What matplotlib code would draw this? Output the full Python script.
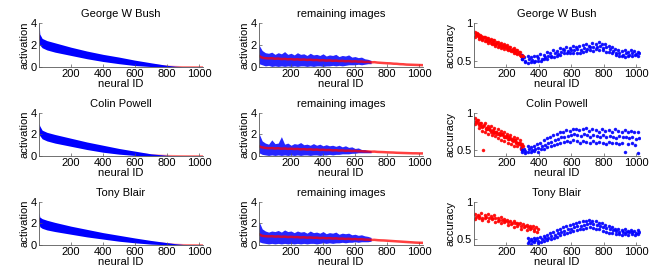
import numpy as np
import matplotlib
matplotlib.use('Agg')
import matplotlib.pyplot as plt

plt.rcParams['font.family'] = ['Liberation Sans', 'DejaVu Sans']
plt.rcParams['font.size'] = 8

people = ['George W Bush', 'Colin Powell', 'Tony Blair']

# ---- left column: activation band of the person's images (sorted neurons)
band_x = [1, 5, 20, 50, 100, 200, 300, 400, 500, 600, 700, 800, 850, 900, 1024]
band_hi = [
    [4.0, 3.0, 2.6, 2.4, 2.2, 1.8, 1.45, 1.15, 0.9, 0.62, 0.38, 0.15, 0.07, 0.03, 0.02],
    [3.0, 2.8, 2.4, 2.2, 2.0, 1.65, 1.3, 1.0, 0.7, 0.45, 0.2, 0.06, 0.03, 0.02, 0.02],
    [3.0, 2.6, 2.45, 2.3, 2.1, 1.75, 1.45, 1.15, 0.9, 0.65, 0.42, 0.22, 0.12, 0.05, 0.02],
]
band_lo = [
    [2.2, 2.0, 1.75, 1.55, 1.35, 1.05, 0.75, 0.5, 0.3, 0.13, 0.04, 0.0, 0.0, 0.0, 0.0],
    [2.0, 1.9, 1.6, 1.4, 1.2, 0.9, 0.6, 0.35, 0.17, 0.05, 0.0, 0.0, 0.0, 0.0, 0.0],
    [2.0, 1.7, 1.55, 1.4, 1.25, 1.0, 0.75, 0.55, 0.35, 0.2, 0.08, 0.02, 0.0, 0.0, 0.0],
]
band_mean = [
    [3.0, 2.5, 2.2, 2.0, 1.8, 1.4, 1.1, 0.8, 0.6, 0.38, 0.2, 0.07, 0.04, 0.02, 0.02],
    [2.5, 2.3, 2.0, 1.8, 1.6, 1.3, 0.95, 0.68, 0.45, 0.25, 0.1, 0.04, 0.03, 0.02, 0.02],
    [2.5, 2.2, 2.0, 1.85, 1.7, 1.4, 1.1, 0.85, 0.62, 0.42, 0.25, 0.12, 0.06, 0.03, 0.02],
]

# ---- middle column: remaining images
rem_bx = np.arange(0, 701, 20)
rem_hi = [
    [2.0, 1.5, 1.3, 1.25, 1.35, 1.15, 1.3, 1.2, 1.4, 1.15, 1.25, 1.1, 1.3, 1.15, 1.2, 1.05, 1.25, 1.1,
     1.15, 1.05, 1.2, 1.0, 1.1, 1.05, 1.15, 0.95, 1.05, 1.0, 1.1, 0.9, 0.95, 0.85, 0.9, 0.75, 0.7, 0.6],
    [2.1, 1.4, 1.2, 1.1, 1.5, 1.15, 1.2, 1.8, 1.1, 1.2, 1.0, 1.15, 1.1, 1.25, 1.05, 1.1, 1.0, 1.15,
     1.0, 1.1, 0.95, 1.05, 0.95, 1.0, 0.9, 1.0, 0.85, 0.95, 0.8, 0.85, 0.7, 0.75, 0.6, 0.6, 0.5, 0.5],
    [2.2, 1.5, 1.3, 1.2, 1.3, 1.25, 1.35, 1.2, 1.4, 1.25, 1.3, 1.15, 1.3, 1.2, 1.25, 1.1, 1.3, 1.15,
     1.2, 1.1, 1.25, 1.05, 1.15, 1.1, 1.2, 1.0, 1.1, 1.05, 1.1, 0.95, 1.0, 0.9, 0.95, 0.85, 0.8, 0.7],
]
rem_lo = [
    [0.3, 0.2, 0.1, 0.15, 0.05, 0.1, 0.05, 0.1, 0.05, 0.1, 0.05, 0.1, 0.05, 0.1, 0.1, 0.05, 0.1, 0.05,
     0.1, 0.1, 0.05, 0.1, 0.1, 0.15, 0.1, 0.15, 0.1, 0.15, 0.2, 0.2, 0.2, 0.25, 0.2, 0.25, 0.3, 0.3],
    [0.3, 0.15, 0.1, 0.05, 0.1, 0.05, 0.1, 0.05, 0.1, 0.05, 0.1, 0.05, 0.1, 0.05, 0.1, 0.1, 0.05, 0.1,
     0.1, 0.05, 0.1, 0.1, 0.15, 0.1, 0.15, 0.15, 0.2, 0.2, 0.2, 0.25, 0.25, 0.3, 0.3, 0.3, 0.3, 0.3],
    [0.3, 0.2, 0.15, 0.1, 0.15, 0.1, 0.15, 0.1, 0.15, 0.1, 0.15, 0.1, 0.15, 0.1, 0.15, 0.1, 0.15, 0.15,
     0.1, 0.15, 0.2, 0.15, 0.2, 0.15, 0.2, 0.2, 0.25, 0.2, 0.25, 0.25, 0.3, 0.25, 0.3, 0.3, 0.3, 0.35],
]
rem_rx = np.arange(0, 1021, 20)
rem_red = [
    [1.0, 0.85, 0.8, 0.78, 0.8, 0.75, 0.77, 0.72, 0.74, 0.7, 0.72, 0.68, 0.7, 0.66, 0.68, 0.64, 0.66, 0.63,
     0.64, 0.6, 0.62, 0.58, 0.6, 0.56, 0.58, 0.54, 0.56, 0.52, 0.54, 0.5, 0.52, 0.48, 0.5, 0.45, 0.47, 0.42,
     0.44, 0.4, 0.38, 0.36, 0.34, 0.33, 0.3, 0.29, 0.26, 0.25, 0.22, 0.21, 0.2, 0.19, 0.18, 0.17],
    [0.9, 0.8, 0.75, 0.72, 0.74, 0.7, 0.72, 0.68, 0.7, 0.66, 0.68, 0.65, 0.66, 0.62, 0.64, 0.6, 0.62, 0.58,
     0.6, 0.56, 0.58, 0.55, 0.56, 0.52, 0.54, 0.5, 0.52, 0.48, 0.5, 0.46, 0.48, 0.44, 0.45, 0.42, 0.43, 0.4,
     0.41, 0.38, 0.37, 0.36, 0.34, 0.33, 0.32, 0.3, 0.29, 0.28, 0.27, 0.26, 0.25, 0.25, 0.24, 0.24],
    [1.0, 0.85, 0.82, 0.8, 0.82, 0.78, 0.8, 0.76, 0.78, 0.74, 0.76, 0.73, 0.74, 0.7, 0.72, 0.68, 0.7, 0.67,
     0.68, 0.64, 0.66, 0.62, 0.64, 0.6, 0.62, 0.58, 0.6, 0.56, 0.58, 0.54, 0.56, 0.52, 0.54, 0.5, 0.5, 0.47,
     0.48, 0.45, 0.43, 0.42, 0.4, 0.38, 0.36, 0.34, 0.32, 0.3, 0.28, 0.26, 0.24, 0.22, 0.21, 0.2],
]

# ---- right column: accuracy per neuron (red = first neurons, blue = rest)
acc_red_x = [np.arange(5, 300, 10), np.arange(5, 300, 10), np.arange(5, 390, 20)]
acc_red_y = [
    [[0.88, 0.84, 0.86, 0.81, 0.83, 0.80, 0.82, 0.78, 0.80, 0.76, 0.79, 0.75, 0.77, 0.73, 0.75, 0.71, 0.74, 0.70,
      0.72, 0.68, 0.71, 0.67, 0.69, 0.65, 0.67, 0.63, 0.65, 0.61, 0.62, 0.58],
     [0.82, 0.87, 0.79, 0.84, 0.77, 0.82, 0.76, 0.80, 0.74, 0.78, 0.72, 0.77, 0.70, 0.75, 0.69, 0.73, 0.67, 0.71,
      0.66, 0.70, 0.64, 0.68, 0.63, 0.66, 0.60, 0.64, 0.59, 0.62, 0.57, 0.55],
     [0.85, 0.83, 0.82, 0.80, 0.79, 0.81, 0.77, 0.76, 0.78, 0.74, 0.75, 0.73, 0.72, 0.74, 0.70, 0.71, 0.69, 0.68,
      0.70, 0.66, 0.67, 0.64, 0.65, 0.63, 0.62, 0.60, 0.61, 0.58, 0.57, 0.56]],
    [[0.93, 0.88, 0.90, 0.85, 0.87, 0.82, 0.86, 0.80, 0.83, 0.79, 0.82, 0.77, 0.80, 0.75, 0.78, 0.73, 0.76, 0.71,
      0.74, 0.69, 0.72, 0.67, 0.70, 0.65, 0.68, 0.63, 0.66, 0.60, 0.64, 0.58],
     [0.85, 0.90, 0.80, 0.86, 0.76, 0.50, 0.74, 0.80, 0.72, 0.77, 0.70, 0.75, 0.69, 0.74, 0.66, 0.71, 0.64, 0.70,
      0.62, 0.67, 0.60, 0.65, 0.58, 0.63, 0.56, 0.60, 0.55, 0.58, 0.52, 0.55],
     [0.89, 0.86, 0.84, 0.83, 0.81, 0.84, 0.78, 0.79, 0.80, 0.75, 0.76, 0.73, 0.74, 0.72, 0.71, 0.70, 0.72, 0.68,
      0.67, 0.69, 0.65, 0.66, 0.64, 0.62, 0.63, 0.61, 0.59, 0.60, 0.57, 0.56]],
    [[0.84, 0.82, 0.85, 0.83, 0.84, 0.81, 0.82, 0.79, 0.80, 0.77, 0.76, 0.74, 0.75, 0.72, 0.71, 0.70, 0.69, 0.68,
      0.67, 0.66],
     [0.77, 0.79, 0.76, 0.78, 0.75, 0.77, 0.73, 0.75, 0.71, 0.73, 0.69, 0.70, 0.66, 0.68, 0.64, 0.66, 0.62, 0.63,
      0.61, 0.60],
     [0.80, 0.81, 0.79, 0.80, 0.79, 0.78, 0.78, 0.76, 0.76, 0.75, 0.73, 0.72, 0.71, 0.70, 0.68, 0.68, 0.66, 0.65,
      0.64, 0.63]],
]
acc_blue_x = [np.arange(290, 1021, 20), np.arange(290, 1021, 20), np.arange(330, 1021, 20)]
acc_blue_y = [
    [[0.58, 0.55, 0.56, 0.55, 0.57, 0.56, 0.59, 0.58, 0.62, 0.61, 0.64, 0.63, 0.67, 0.66, 0.69, 0.67, 0.70, 0.68,
      0.70, 0.71, 0.72, 0.70, 0.74, 0.73, 0.75, 0.72, 0.73, 0.70, 0.69, 0.66, 0.65, 0.63, 0.64, 0.62, 0.65, 0.63,
      0.62],
     [0.52, 0.49, 0.47, 0.49, 0.48, 0.50, 0.50, 0.52, 0.53, 0.55, 0.55, 0.57, 0.58, 0.60, 0.60, 0.61, 0.61, 0.60,
      0.61, 0.62, 0.63, 0.64, 0.63, 0.66, 0.64, 0.65, 0.62, 0.62, 0.60, 0.58, 0.56, 0.56, 0.55, 0.57, 0.56, 0.58,
      0.56],
     [0.53, 0.50, 0.53, 0.51, 0.50, 0.54, 0.53, 0.55, 0.56, 0.57, 0.60, 0.59, 0.62, 0.64, 0.63, 0.65, 0.64, 0.66,
      0.64, 0.67, 0.66, 0.68, 0.69, 0.68, 0.70, 0.67, 0.68, 0.66, 0.63, 0.61, 0.60, 0.58, 0.60, 0.58, 0.61, 0.59,
      0.60]],
    [[0.53, 0.52, 0.55, 0.54, 0.56, 0.58, 0.60, 0.63, 0.66, 0.68, 0.70, 0.72, 0.74, 0.75, 0.77, 0.76, 0.78, 0.79,
      0.77, 0.78, 0.80, 0.76, 0.78, 0.77, 0.75, 0.78, 0.76, 0.77, 0.75, 0.78, 0.76, 0.74, 0.77, 0.75, 0.76, 0.74,
      0.75],
     [0.47, 0.46, 0.48, 0.47, 0.49, 0.48, 0.51, 0.52, 0.54, 0.55, 0.57, 0.58, 0.60, 0.61, 0.62, 0.61, 0.63, 0.62,
      0.60, 0.62, 0.61, 0.60, 0.62, 0.59, 0.61, 0.60, 0.58, 0.61, 0.59, 0.60, 0.58, 0.60, 0.47, 0.58, 0.60, 0.57,
      0.46],
     [0.50, 0.49, 0.51, 0.50, 0.52, 0.53, 0.55, 0.57, 0.60, 0.61, 0.63, 0.65, 0.67, 0.68, 0.69, 0.70, 0.71, 0.70,
      0.69, 0.71, 0.70, 0.68, 0.70, 0.69, 0.68, 0.70, 0.67, 0.69, 0.68, 0.66, 0.69, 0.67, 0.68, 0.66, 0.67, 0.65,
      0.66]],
    [[0.51, 0.50, 0.52, 0.51, 0.53, 0.54, 0.56, 0.58, 0.60, 0.62, 0.64, 0.66, 0.67, 0.69, 0.70, 0.72, 0.73, 0.74,
      0.75, 0.76, 0.75, 0.74, 0.72, 0.71, 0.69, 0.67, 0.66, 0.64, 0.63, 0.62, 0.63, 0.61, 0.62, 0.61, 0.62],
     [0.45, 0.44, 0.46, 0.45, 0.46, 0.47, 0.49, 0.50, 0.52, 0.53, 0.55, 0.57, 0.58, 0.60, 0.61, 0.62, 0.63, 0.64,
      0.65, 0.66, 0.65, 0.64, 0.63, 0.61, 0.60, 0.58, 0.58, 0.57, 0.57, 0.56, 0.57, 0.56, 0.57, 0.56, 0.57],
     [0.48, 0.47, 0.49, 0.48, 0.50, 0.51, 0.52, 0.54, 0.56, 0.58, 0.59, 0.61, 0.63, 0.64, 0.66, 0.67, 0.68, 0.69,
      0.70, 0.71, 0.70, 0.69, 0.68, 0.66, 0.65, 0.63, 0.62, 0.61, 0.60, 0.59, 0.60, 0.59, 0.60, 0.58, 0.59]],
]

fig = plt.figure(figsize=(6.55, 2.73), dpi=100)

col_x = [0.0595, 0.3954, 0.7237]
col_w = [0.2504, 0.2504, 0.2534]
row_b = [0.7546, 0.4286, 0.1026]
row_h = [0.161, 0.1575, 0.1575]


def style(ax):
    ax.spines['top'].set_visible(False)
    ax.spines['right'].set_visible(False)
    for s in ['left', 'bottom']:
        ax.spines[s].set_color('0.35')
        ax.spines[s].set_linewidth(0.6)
    ax.tick_params(direction='in', length=2, width=0.5, color='0.35', pad=1.5, labelsize=8)
    ax.set_xlim(0, 1024)
    ax.set_xticks([200, 400, 600, 800, 1000])
    ax.set_xlabel('neural ID', labelpad=0)


for r in range(3):
    # left
    ax = fig.add_axes([col_x[0], row_b[r], col_w[0], row_h[r]])
    ax.plot(band_x, band_mean[r], color='#ff8080', lw=1, zorder=0.5)
    ax.fill_between(band_x, band_lo[r], band_hi[r], color='blue', lw=0, zorder=1)
    ax.set_ylim(0, 4)
    ax.set_yticks([0, 2, 4])
    ax.set_ylabel('activation', labelpad=1)
    ax.set_title(people[r], fontsize=8, pad=4)
    style(ax)

    # middle
    ax = fig.add_axes([col_x[1], row_b[r], col_w[1], row_h[r]])
    ax.fill_between(rem_bx, rem_lo[r], rem_hi[r], color='blue', lw=0, alpha=0.85)
    ax.plot(rem_rx, rem_red[r], color='red', lw=1.8, alpha=0.75)
    ax.set_ylim(0, 4)
    ax.set_yticks([0, 2, 4])
    ax.set_ylabel('activation', labelpad=1)
    ax.set_title('remaining images', fontsize=8, pad=4)
    style(ax)

    # right
    ax = fig.add_axes([col_x[2], row_b[r], col_w[2], row_h[r]])
    for k, off in enumerate([0, 3, 7]):
        ax.plot(acc_red_x[r] + off, acc_red_y[r][k], '.', color='red', ms=3, alpha=0.85)
        ax.plot(acc_blue_x[r] + off, acc_blue_y[r][k], '.', color='blue', ms=3, alpha=0.85)
    ax.set_ylim(0.42, 1.0)
    ax.set_yticks([0.5, 1])
    ax.set_yticklabels(['0.5', '1'])
    ax.set_ylabel('accuracy', labelpad=1)
    ax.set_title(people[r], fontsize=8, pad=4)
    style(ax)

fig.savefig('out.png', dpi=100)
